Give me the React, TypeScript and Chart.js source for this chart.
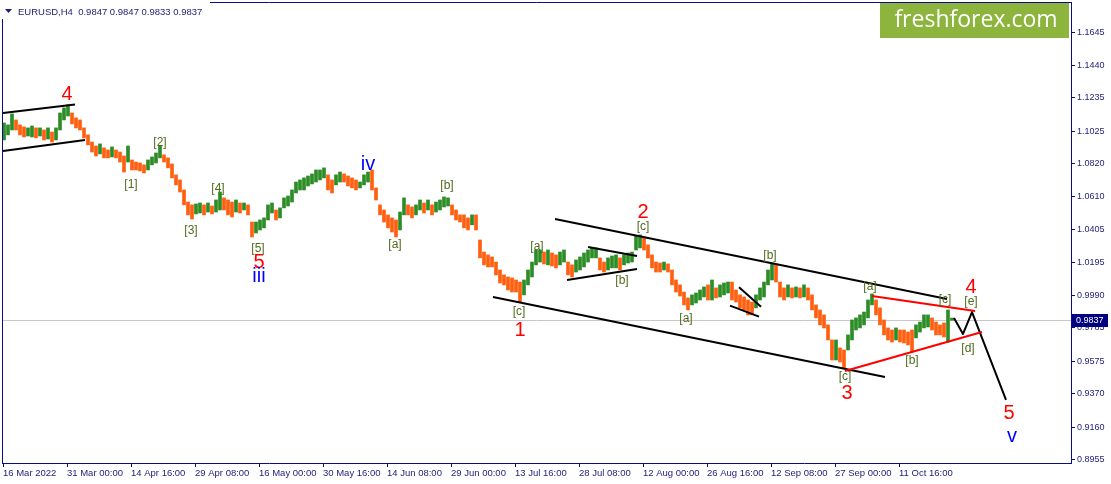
import React, { useEffect, useRef } from "react";
import { Chart, registerables } from "chart.js";

Chart.register(...registerables);

const SYMBOL = "EURUSD,H4";
const LAST_OHLC = [0.9847, 0.9847, 0.9833, 0.9837];
const CANDLE_STEP = 4; // H4 bars per drawn candle
const FIRST_BAR = 2;
const BAR_MIN = 0;
const BAR_MAX = 1069;
const PRICE_MIN = 0.8934;
const PRICE_MAX = 1.1838;

const candleHigh = [
  1.1076, 1.1064, 1.1133, 1.1095, 1.1064, 1.1051, 1.1045, 1.1057, 1.1045, 1.1045,
  1.1032, 1.1045, 1.1019, 1.1045, 1.1139, 1.1171, 1.119, 1.1139, 1.1108, 1.1095,
  1.1045, 1.1001, 1.0956, 1.0931, 1.0944, 1.0919, 1.0906, 1.0925, 1.0906, 1.0893,
  1.0868, 1.0931, 1.0843, 1.083, 1.0824, 1.0812, 1.0843, 1.0862, 1.0887, 1.0931,
  1.0875, 1.0856, 1.0818, 1.0749, 1.0717, 1.0654, 1.0578, 1.056, 1.0566, 1.0572,
  1.056, 1.0572, 1.0553, 1.0591, 1.0641, 1.0604, 1.0591, 1.0578, 1.0591, 1.0572,
  1.0572, 1.056, 1.0452, 1.0452, 1.0465, 1.0478, 1.056, 1.0572, 1.0528, 1.0541,
  1.0604, 1.0616, 1.0654, 1.0704, 1.0717, 1.073, 1.0742, 1.0755, 1.078, 1.078,
  1.0793, 1.0749, 1.0717, 1.0749, 1.0767, 1.0755, 1.0742, 1.073, 1.0717, 1.0704,
  1.0749, 1.0767, 1.078, 1.0667, 1.056, 1.0528, 1.0497, 1.0478, 1.0465, 1.0515,
  1.0604, 1.056, 1.0547, 1.056, 1.0591, 1.0572, 1.0591, 1.056, 1.0578, 1.0591,
  1.061, 1.0604, 1.056, 1.0528, 1.0497, 1.0497, 1.0478, 1.0497, 1.0497, 1.0339,
  1.0263, 1.0245, 1.0232, 1.02, 1.015, 1.0119, 1.0106, 1.01, 1.0087, 1.0074,
  1.0087, 1.015, 1.02, 1.0276, 1.0276, 1.0263, 1.0276, 1.0257, 1.0245, 1.0263,
  1.0276, 1.02, 1.0182, 1.0213, 1.0232, 1.0257, 1.0276, 1.0289, 1.0289, 1.0226,
  1.02, 1.0226, 1.0238, 1.0245, 1.0226, 1.0245, 1.0257, 1.0263, 1.0364, 1.0371,
  1.0358, 1.0308, 1.0245, 1.02, 1.0194, 1.02, 1.0188, 1.015, 1.0087, 1.0056,
  1.0011, 0.9974, 0.9993, 1.0005, 1.0024, 1.0043, 1.0056, 1.0087, 1.0037, 1.0056,
  1.0068, 1.0074, 1.0074, 1.0024, 0.9993, 0.998, 0.9961, 0.9948, 0.9993, 1.0037,
  1.0074, 1.015, 1.0194, 1.0182, 1.0074, 1.0037, 1.0056, 1.0037, 1.0043, 1.0037,
  1.0056, 1.0037, 0.9993, 0.993, 0.9898, 0.9867, 0.9804, 0.9709, 0.9709, 0.9659,
  0.9646, 0.9741, 0.9835, 0.9848, 0.9867, 0.9885, 0.9961, 0.9999, 0.9961, 0.9911,
  0.9835, 0.9785, 0.9772, 0.9785, 0.9772, 0.9772, 0.9759, 0.9772, 0.9804, 0.9822,
  0.9867, 0.9867, 0.9848, 0.9822, 0.9804, 0.9816, 0.9898, 0.9847,
];

const candleLow = [
  1.0969, 1.1001, 1.1032, 1.1032, 1.1001, 1.0988, 1.0994, 1.0988, 1.0982, 1.0994,
  1.0969, 1.0975, 1.0956, 1.0969, 1.1032, 1.1095, 1.112, 1.107, 1.1045, 1.1032,
  1.0982, 1.0938, 1.0893, 1.0868, 1.0881, 1.0856, 1.0856, 1.0862, 1.0856, 1.083,
  1.0767, 1.083, 1.078, 1.078, 1.0774, 1.0761, 1.078, 1.0812, 1.0824, 1.0856,
  1.083, 1.0793, 1.073, 1.0686, 1.0641, 1.056, 1.0497, 1.0471, 1.0503, 1.0509,
  1.0497, 1.0515, 1.0503, 1.0515, 1.0528, 1.0528, 1.0497, 1.0484, 1.0515, 1.0509,
  1.0528, 1.0497, 1.0358, 1.0383, 1.0402, 1.0415, 1.0465, 1.0509, 1.0465, 1.0478,
  1.0541, 1.0553, 1.0578, 1.0635, 1.0654, 1.0654, 1.0679, 1.0692, 1.0704, 1.0717,
  1.073, 1.0654, 1.0635, 1.0686, 1.0704, 1.0704, 1.0679, 1.0667, 1.0654, 1.0667,
  1.0686, 1.0704, 1.0654, 1.0591, 1.0497, 1.0452, 1.0415, 1.0389, 1.0358, 1.0402,
  1.0497, 1.0497, 1.0478, 1.0497, 1.0528, 1.0509, 1.0528, 1.0497, 1.0515, 1.0528,
  1.0547, 1.0553, 1.0497, 1.0465, 1.0452, 1.0415, 1.0402, 1.0434, 1.0402, 1.0226,
  1.0182, 1.0169, 1.0169, 1.0119, 1.0068, 1.0056, 1.0024, 1.0011, 1.0011, 0.9948,
  0.9993, 1.0056, 1.0106, 1.0182, 1.02, 1.0188, 1.0182, 1.0175, 1.0163, 1.0182,
  1.02, 1.0119, 1.0106, 1.0137, 1.015, 1.0169, 1.02, 1.0226, 1.0226, 1.015,
  1.0137, 1.015, 1.0163, 1.0163, 1.015, 1.0182, 1.0194, 1.02, 1.0276, 1.0289,
  1.0276, 1.0226, 1.0163, 1.0137, 1.0137, 1.015, 1.0137, 1.0056, 1.0011, 0.9986,
  0.993, 0.9898, 0.993, 0.9942, 0.9961, 0.998, 0.9961, 0.9961, 0.9974, 0.998,
  0.9993, 1.0005, 0.9961, 0.9948, 0.9911, 0.9898, 0.9867, 0.9867, 0.9911, 0.9961,
  0.998, 1.0056, 1.0087, 1.0074, 0.998, 0.9961, 0.998, 0.9974, 0.998, 0.9974,
  0.998, 0.9961, 0.9898, 0.9848, 0.9804, 0.9785, 0.9709, 0.9583, 0.9583, 0.957,
  0.9533, 0.9646, 0.9709, 0.9772, 0.9785, 0.9804, 0.9848, 0.993, 0.9867, 0.9804,
  0.9741, 0.9709, 0.9696, 0.9709, 0.9696, 0.969, 0.9678, 0.9633, 0.9722, 0.9759,
  0.9785, 0.9791, 0.9772, 0.9741, 0.9741, 0.9728, 0.9696, 0.9833,
];

const yTickValues = [
  1.1645, 1.144, 1.1235, 1.1025, 1.082, 1.061, 1.0405, 1.0195, 0.999, 0.9785,
  0.9575, 0.937, 0.916, 0.8955,
];

const xTickBars = [1, 65, 129, 193, 257, 321, 385, 449, 513, 577, 641, 705, 769, 833, 897];
const xTickLabels = [
  "16 Mar 2022", "31 Mar 00:00", "14 Apr 16:00", "29 Apr 08:00", "16 May 00:00",
  "30 May 16:00", "14 Jun 08:00", "29 Jun 00:00", "13 Jul 16:00", "28 Jul 08:00",
  "12 Aug 00:00", "26 Aug 16:00", "12 Sep 08:00", "27 Sep 00:00", "11 Oct 16:00",
];

// trend lines: polylines of [bar, price]
const blackLines: number[][][] = [
  [[1, 1.1139], [73, 1.1192]],
  [[1, 1.09], [83, 1.0969]],
  [[553, 1.0471], [945, 0.9967]],
  [[491, 0.998], [883, 0.9476]],
  [[586, 1.0295], [635, 1.0238]],
  [[565, 1.0087], [635, 1.0156]],
  [[737, 1.0041], [759, 0.9919]],
  [[728, 0.9925], [757, 0.9856]],
  [[952, 0.9848], [961, 0.9747], [970, 0.9885], [1004, 0.9331]],
];
const redLines: number[][][] = [
  [[870, 0.9986], [973, 0.9892]],
  [[843, 0.9514], [980, 0.9759]],
];

// labels: [text, bar, price]
const redLabels: [string, number, number][] = [
  ["4", 65, 1.1253], ["5", 257, 1.0194], ["1", 518, 0.9766], ["2", 641, 1.0509],
  ["3", 845, 0.9375], ["4", 969, 1.0037], ["5", 1007, 0.9243],
];
const blueLabels: [string, number, number][] = [
  ["iii", 257, 1.0106], ["iv", 366, 1.0812], ["v", 1010, 0.9098],
];
const waveLabels: [string, number, number][] = [
  ["[1]", 129, 1.0686], ["[2]", 158, 1.095], ["[3]", 189, 1.0396], ["[4]", 216, 1.0661],
  ["[5]", 256, 1.0282], ["[a]", 393, 1.0308], ["[b]", 445, 1.0679], ["[c]", 517, 0.9885],
  ["[a]", 535, 1.0295], ["[b]", 620, 1.0081], ["[c]", 641, 1.0421], ["[a]", 684, 0.9841],
  ["[b]", 768, 1.0238], ["[c]", 843, 0.9476], ["[a]", 868, 1.0043], ["[b]", 910, 0.9577],
  ["[c]", 943, 0.9961], ["[e]", 969, 0.995], ["[d]", 966, 0.9652],
];

const AXIS = "#0c0c84";
const TEXT = "#1c1c78";
const UP = "#2c8c26";
const DOWN = "#ff5f0f";
const FONT = '"Liberation Sans", Arial, sans-serif';

export default function App() {
  const ref = useRef<HTMLCanvasElement | null>(null);

  useEffect(() => {
    document.body.style.margin = "0";
    const canvas = ref.current;
    if (!canvas) return;

    const points = candleHigh.map((h, i) => ({
      x: FIRST_BAR + CANDLE_STEP * i,
      y: [candleLow[i], h],
    }));
    const colors = candleHigh.map((h, i) => {
      if (i === 0) return UP;
      const mid = (h + candleLow[i]) / 2;
      const prev = (candleHigh[i - 1] + candleLow[i - 1]) / 2;
      return mid >= prev ? UP : DOWN;
    });

    const overlay = {
      id: "overlay",
      beforeDatasetsDraw(chart: any) {
        const { ctx, chartArea: a, scales } = chart;
        const py = Math.round(scales.y.getPixelForValue(LAST_OHLC[3])) + 0.5;
        ctx.save();
        ctx.strokeStyle = "#c8c8c8";
        ctx.lineWidth = 1;
        ctx.beginPath();
        ctx.moveTo(a.left, py);
        ctx.lineTo(a.right, py);
        ctx.stroke();
        ctx.restore();
      },
      afterDatasetsDraw(chart: any) {
        const { ctx, scales } = chart;
        const X = (v: number) => scales.x.getPixelForValue(v);
        const Y = (v: number) => scales.y.getPixelForValue(v);
        ctx.save();
        const drawLines = (set: number[][][], color: string) => {
          ctx.strokeStyle = color;
          ctx.lineWidth = 2;
          ctx.lineJoin = "round";
          for (const pl of set) {
            ctx.beginPath();
            pl.forEach((p, k) => (k ? ctx.lineTo(X(p[0]), Y(p[1])) : ctx.moveTo(X(p[0]), Y(p[1]))));
            ctx.stroke();
          }
        };
        drawLines(blackLines, "#000000");
        drawLines(redLines, "#ff0000");
        ctx.textAlign = "center";
        ctx.textBaseline = "middle";
        const drawLabels = (set: [string, number, number][], color: string, size: number) => {
          ctx.fillStyle = color;
          ctx.font = `${size}px ${FONT}`;
          for (const [t, b, p] of set) ctx.fillText(t, X(b), Y(p));
        };
        drawLabels(waveLabels, "#4e6a1c", 12);
        drawLabels(redLabels, "#ff0000", 20);
        drawLabels(blueLabels, "#0000ff", 20);
        ctx.restore();
      },
      afterDraw(chart: any) {
        const { ctx, chartArea: a, scales } = chart;
        ctx.save();
        // frame top/left
        ctx.strokeStyle = AXIS;
        ctx.lineWidth = 1;
        ctx.beginPath();
        ctx.moveTo(a.left + 0.5, a.bottom);
        ctx.lineTo(a.left + 0.5, a.top + 0.5);
        ctx.lineTo(a.right, a.top + 0.5);
        ctx.stroke();
        // title
        ctx.fillStyle = "#ffffff";
        ctx.fillRect(0, 0, 210, 19);
        ctx.fillStyle = TEXT;
        ctx.beginPath();
        ctx.moveTo(5, 9);
        ctx.lineTo(12, 9);
        ctx.lineTo(8.5, 13);
        ctx.closePath();
        ctx.fill();
        ctx.font = `9.5px ${FONT}`;
        ctx.textBaseline = "middle";
        ctx.textAlign = "left";
        ctx.fillText(`${SYMBOL}  ${LAST_OHLC.map((v) => v.toFixed(4)).join(" ")}`, 18, 12);
        // current price box
        const py = Math.round(scales.y.getPixelForValue(LAST_OHLC[3]));
        ctx.fillStyle = "#000080";
        ctx.fillRect(a.right + 1, py - 6, 36, 13);
        ctx.fillStyle = "#ffffff";
        ctx.font = `9px ${FONT}`;
        ctx.fillText(LAST_OHLC[3].toFixed(4), a.right + 5, py + 0.5);
        // logo
        ctx.fillStyle = "#8db43c";
        ctx.fillRect(880, 3, 189, 35);
        ctx.fillStyle = "#ffffff";
        ctx.font = '23px "Open Sans", "Noto Sans", sans-serif';
        ctx.textAlign = "center";
        ctx.fillText("freshforex.com", 976, 20);
        ctx.restore();
      },
    };

    const chart = new Chart(canvas, {
      type: "bar",
      data: {
        datasets: [
          {
            data: points as any,
            backgroundColor: colors,
            borderWidth: 0,
            barThickness: 3,
          } as any,
        ],
      },
      options: {
        animation: false,
        responsive: false,
        devicePixelRatio: 1,
        layout: { padding: { left: 2, top: 2, right: 0, bottom: 0 } },
        plugins: {
          legend: { display: false },
          tooltip: { enabled: false },
        },
        scales: {
          x: {
            type: "linear",
            min: BAR_MIN,
            max: BAR_MAX,
            offset: false,
            grid: {
              display: true,
              drawOnChartArea: false,
              drawTicks: true,
              tickLength: 4,
              color: AXIS,
              offset: false,
            },
            border: { display: true, color: AXIS, width: 1 },
            ticks: {
              autoSkip: false,
              maxRotation: 0,
              minRotation: 0,
              align: "start",
              padding: 1,
              color: TEXT,
              font: { family: '"Liberation Sans Narrow", "Liberation Sans", sans-serif', size: 9.5 },
              callback: (_v: any, i: number) => xTickLabels[i] ?? "",
            },
            afterBuildTicks: (s: any) => {
              s.ticks = xTickBars.map((v) => ({ value: v }));
            },
            afterFit: (s: any) => {
              s.height = 21;
              s.paddingLeft = 0;
              s.paddingRight = 0;
            },
          } as any,
          y: {
            type: "linear",
            position: "right",
            min: PRICE_MIN,
            max: PRICE_MAX,
            grid: {
              display: true,
              drawOnChartArea: false,
              drawTicks: true,
              tickLength: 4,
              color: AXIS,
            },
            border: { display: true, color: AXIS, width: 1 },
            ticks: {
              padding: 2,
              color: TEXT,
              font: { family: FONT, size: 9 },
              callback: (v: any) => Number(v).toFixed(4),
            },
            afterBuildTicks: (s: any) => {
              s.ticks = yTickValues.map((v) => ({ value: v }));
            },
            afterFit: (s: any) => {
              s.width = 40;
              s.paddingTop = 0;
              s.paddingBottom = 0;
            },
          } as any,
        },
      },
      plugins: [overlay],
    });
    return () => chart.destroy();
  }, []);

  return (
    <div style={{ width: 1111, height: 484 }}>
      <canvas ref={ref} width={1111} height={484} style={{ display: "block" }} />
    </div>
  );
}
